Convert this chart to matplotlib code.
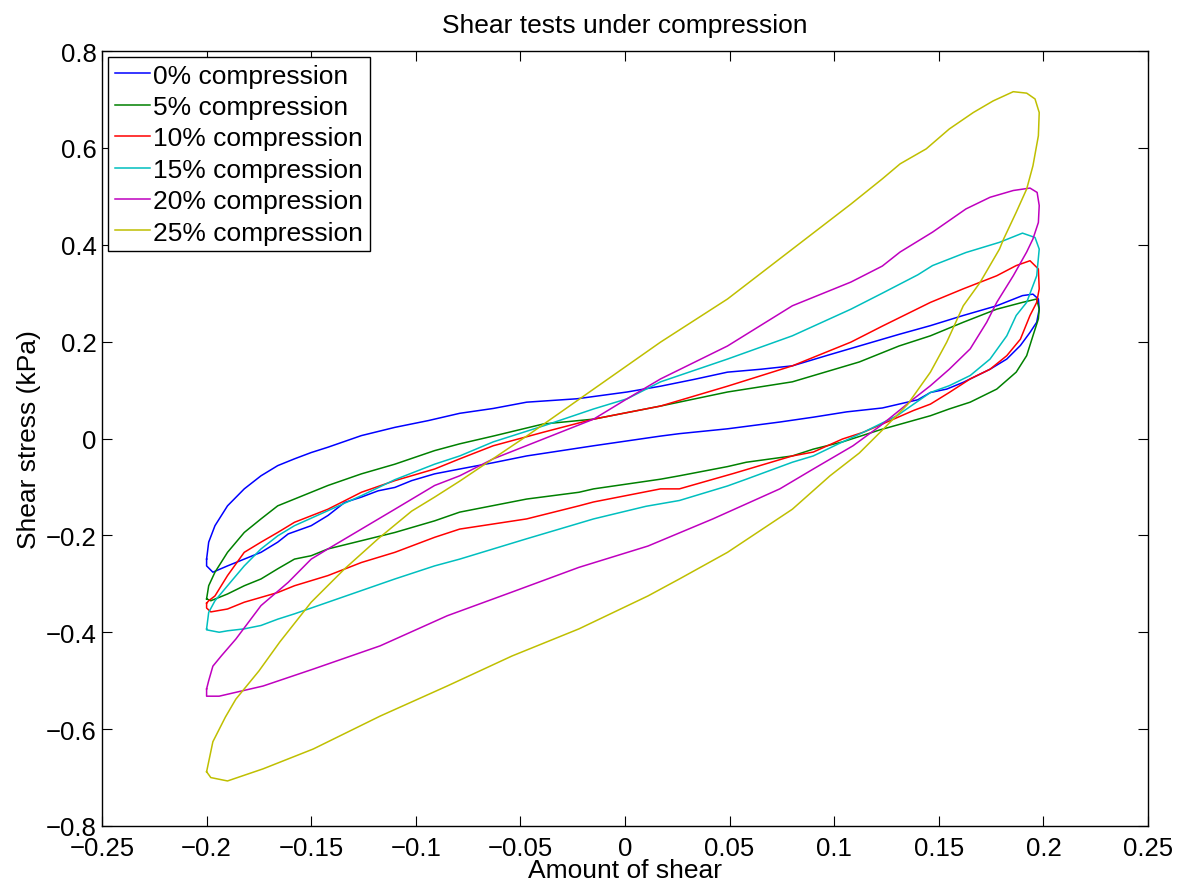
import matplotlib
matplotlib.use("Agg")
import matplotlib.pyplot as plt
from matplotlib.ticker import FuncFormatter

plt.rcParams['font.family'] = ['Liberation Sans', 'DejaVu Sans']

# hysteresis loops, each traced as one closed path:
# upper branch left -> right, turn at +0.2, lower branch right -> left
x_c0 = [-0.200, -0.199, -0.196, -0.190, -0.182, -0.174, -0.166, -0.158, -0.150, -0.142,
        -0.126, -0.110, -0.094, -0.079, -0.063, -0.047, -0.023, 0.001, 0.017, 0.033,
        0.049, 0.065, 0.080, 0.097, 0.112, 0.131, 0.146, 0.1617, 0.1777, 0.190,
        0.195, 0.1976, 0.198, 0.1968, 0.1936, 0.189, 0.1825, 0.1745, 0.1617, 0.1538,
        0.146, 0.140, 0.123, 0.106, 0.090, 0.074, 0.049, 0.026, 0.017, -0.015,
        -0.047, -0.063, -0.079, -0.091, -0.102, -0.110, -0.118, -0.126, -0.134, -0.142,
        -0.150, -0.161, -0.166, -0.174, -0.182, -0.190, -0.197, -0.200, -0.200]
y_c0 = [-0.249, -0.214, -0.180, -0.139, -0.104, -0.077, -0.056, -0.042, -0.029, -0.018,
        0.006, 0.023, 0.037, 0.052, 0.062, 0.075, 0.082, 0.096, 0.108, 0.122,
        0.137, 0.143, 0.150, 0.172, 0.191, 0.215, 0.233, 0.254, 0.274, 0.295,
        0.298, 0.288, 0.267, 0.240, 0.219, 0.192, 0.164, 0.143, 0.116, 0.102,
        0.095, 0.080, 0.063, 0.055, 0.044, 0.034, 0.020, 0.010, 0.005, -0.015,
        -0.036, -0.050, -0.063, -0.073, -0.087, -0.101, -0.108, -0.121, -0.132, -0.159,
        -0.180, -0.197, -0.214, -0.235, -0.249, -0.263, -0.276, -0.263, -0.249]

x_c5 = [-0.200, -0.199, -0.196, -0.190, -0.182, -0.174, -0.166, -0.158, -0.142, -0.126,
        -0.110, -0.091, -0.079, -0.063, -0.039, -0.015, 0.017, 0.049, 0.080, 0.112,
        0.131, 0.146, 0.1617, 0.1777, 0.190, 0.1968, 0.198, 0.1976, 0.195, 0.192,
        0.187, 0.1777, 0.165, 0.155, 0.146, 0.122, 0.104, 0.090, 0.080, 0.058,
        0.049, 0.026, 0.017, -0.015, -0.022, -0.047, -0.079, -0.091, -0.110, -0.126,
        -0.142, -0.150, -0.158, -0.166, -0.174, -0.182, -0.190, -0.198, -0.200]
y_c5 = [-0.331, -0.304, -0.276, -0.235, -0.194, -0.166, -0.139, -0.125, -0.097, -0.073,
        -0.053, -0.025, -0.011, 0.005, 0.030, 0.040, 0.067, 0.096, 0.117, 0.158,
        0.191, 0.212, 0.240, 0.267, 0.281, 0.288, 0.267, 0.247, 0.212, 0.171,
        0.137, 0.102, 0.075, 0.061, 0.047, 0.018, -0.007, -0.022, -0.036, -0.049,
        -0.058, -0.077, -0.084, -0.104, -0.111, -0.125, -0.152, -0.170, -0.194, -0.211,
        -0.228, -0.242, -0.249, -0.269, -0.290, -0.304, -0.321, -0.335, -0.331]

x_c10 = [-0.200, -0.199, -0.196, -0.190, -0.182, -0.174, -0.166, -0.158, -0.142, -0.126,
         -0.110, -0.091, -0.079, -0.063, -0.039, -0.015, 0.017, 0.049, 0.080, 0.108,
         0.123, 0.146, 0.1617, 0.1777, 0.187, 0.1936, 0.1976, 0.198, 0.1968, 0.1936,
         0.189, 0.1825, 0.1745, 0.165, 0.155, 0.146, 0.138, 0.114, 0.104, 0.090,
         0.080, 0.052, 0.026, 0.017, -0.015, -0.022, -0.047, -0.079, -0.091, -0.110,
         -0.126, -0.142, -0.158, -0.166, -0.174, -0.182, -0.190, -0.198, -0.200, -0.200]
y_c10 = [-0.340, -0.335, -0.325, -0.283, -0.235, -0.214, -0.194, -0.173, -0.146, -0.111,
         -0.087, -0.063, -0.042, -0.015, 0.013, 0.040, 0.067, 0.108, 0.150, 0.199,
         0.232, 0.281, 0.309, 0.336, 0.357, 0.367, 0.350, 0.309, 0.281, 0.254,
         0.205, 0.171, 0.143, 0.123, 0.095, 0.071, 0.058, 0.013, -0.001, -0.028,
         -0.036, -0.072, -0.104, -0.104, -0.131, -0.139, -0.166, -0.187, -0.204, -0.235,
         -0.256, -0.283, -0.304, -0.318, -0.328, -0.338, -0.352, -0.358, -0.350, -0.340]

x_c15 = [-0.200, -0.199, -0.196, -0.190, -0.182, -0.174, -0.166, -0.158, -0.142, -0.126,
         -0.110, -0.091, -0.079, -0.063, -0.039, -0.015, 0.001, 0.017, 0.049, 0.080,
         0.108, 0.123, 0.140, 0.147, 0.163, 0.179, 0.190, 0.196, 0.198, 0.1968,
         0.192, 0.187, 0.1825, 0.1745, 0.165, 0.155, 0.146, 0.130, 0.114, 0.104,
         0.090, 0.080, 0.058, 0.049, 0.026, 0.010, -0.015, -0.022, -0.047, -0.079,
         -0.091, -0.110, -0.126, -0.142, -0.158, -0.166, -0.174, -0.182, -0.190, -0.194,
         -0.200, -0.200]
y_c15 = [-0.393, -0.359, -0.335, -0.304, -0.263, -0.228, -0.201, -0.180, -0.149, -0.118,
         -0.085, -0.053, -0.036, -0.007, 0.026, 0.061, 0.082, 0.117, 0.164, 0.212,
         0.267, 0.300, 0.338, 0.357, 0.384, 0.405, 0.424, 0.415, 0.391, 0.336,
         0.281, 0.254, 0.212, 0.164, 0.130, 0.109, 0.095, 0.047, 0.013, -0.007,
         -0.036, -0.049, -0.084, -0.098, -0.128, -0.140, -0.166, -0.175, -0.207, -0.249,
         -0.263, -0.290, -0.314, -0.338, -0.362, -0.373, -0.386, -0.393, -0.397, -0.400,
         -0.395, -0.393]

x_c20 = [-0.200, -0.199, -0.197, -0.193, -0.186, -0.174, -0.161, -0.150, -0.142, -0.126,
         -0.110, -0.091, -0.079, -0.063, -0.039, -0.015, 0.001, 0.017, 0.049, 0.080,
         0.108, 0.123, 0.1315, 0.147, 0.163, 0.1745, 0.1856, 0.1936, 0.197, 0.198,
         0.1976, 0.195, 0.192, 0.1856, 0.1777, 0.1729, 0.165, 0.155, 0.146, 0.138,
         0.122, 0.109, 0.090, 0.074, 0.042, 0.011, -0.022, -0.054, -0.085, -0.117,
         -0.149, -0.173, -0.194, -0.200, -0.200]
y_c20 = [-0.517, -0.500, -0.470, -0.449, -0.414, -0.345, -0.297, -0.249, -0.228, -0.187,
         -0.146, -0.097, -0.077, -0.042, -0.001, 0.040, 0.082, 0.123, 0.191, 0.274,
         0.323, 0.356, 0.385, 0.426, 0.474, 0.498, 0.512, 0.517, 0.508, 0.481,
         0.446, 0.412, 0.385, 0.336, 0.281, 0.240, 0.185, 0.143, 0.109, 0.082,
         0.026, -0.015, -0.063, -0.104, -0.166, -0.222, -0.266, -0.317, -0.366, -0.428,
         -0.476, -0.511, -0.532, -0.532, -0.517]

x_c25 = [-0.200, -0.197, -0.191, -0.186, -0.175, -0.165, -0.150, -0.134, -0.118, -0.102,
         -0.091, -0.079, -0.069, -0.047, -0.015, 0.017, 0.049, 0.080, 0.108, 0.123,
         0.1315, 0.144, 0.155, 0.1665, 0.176, 0.1856, 0.192, 0.196, 0.198, 0.1976,
         0.195, 0.192, 0.187, 0.181, 0.179, 0.1697, 0.1617, 0.1538, 0.146, 0.135,
         0.122, 0.112, 0.098, 0.080, 0.049, 0.026, 0.011, -0.022, -0.054, -0.085,
         -0.117, -0.149, -0.173, -0.190, -0.198, -0.200]
y_c25 = [-0.688, -0.626, -0.575, -0.538, -0.480, -0.420, -0.338, -0.269, -0.207, -0.150,
         -0.121, -0.088, -0.059, 0.005, 0.102, 0.199, 0.288, 0.391, 0.484, 0.536,
         0.567, 0.598, 0.639, 0.673, 0.697, 0.716, 0.713, 0.701, 0.673, 0.625,
         0.563, 0.515, 0.467, 0.412, 0.391, 0.322, 0.274, 0.199, 0.137, 0.070,
         0.013, -0.030, -0.077, -0.146, -0.235, -0.290, -0.325, -0.393, -0.449, -0.511,
         -0.573, -0.641, -0.682, -0.707, -0.700, -0.688]

series = [
    ('0% compression', x_c0, y_c0, (0, 0, 1)),
    ('5% compression', x_c5, y_c5, (0, 0.5, 0)),
    ('10% compression', x_c10, y_c10, (1, 0, 0)),
    ('15% compression', x_c15, y_c15, (0, 0.75, 0.75)),
    ('20% compression', x_c20, y_c20, (0.75, 0, 0.75)),
    ('25% compression', x_c25, y_c25, (0.75, 0.75, 0)),
]

x_ticks = [-0.25, -0.2, -0.15, -0.1, -0.05, 0, 0.05, 0.1, 0.15, 0.2, 0.25]
y_ticks = [-0.8, -0.6, -0.4, -0.2, 0, 0.2, 0.4, 0.6, 0.8]

fig = plt.figure(figsize=(11.81, 8.87), dpi=100)
ax = fig.add_axes([102 / 1181, 1 - 827 / 887, 1046 / 1181, 775 / 887])

for label, xs, ys, col in series:
    ax.plot(xs, ys, color=col, lw=1.1, label=label)

ax.set_xlim(-0.25, 0.25)
ax.set_ylim(-0.8, 0.8)
ax.set_xticks(x_ticks)
ax.set_yticks(y_ticks)
fmt = FuncFormatter(lambda v, p: ('%g' % v).replace('-', '\u2212'))
ax.xaxis.set_major_formatter(fmt)
ax.yaxis.set_major_formatter(fmt)
ax.tick_params(direction='in', top=True, right=True, length=7, width=0.8,
               labelsize=18.5)
ax.tick_params(axis='x', pad=7)
ax.tick_params(axis='y', pad=4)
for s in ax.spines.values():
    s.set_linewidth(1.0)

ax.set_xlabel('Amount of shear', fontsize=19, labelpad=-1)
ax.set_ylabel('Shear stress (kPa)', fontsize=19, labelpad=3)
ax.set_title('Shear tests under compression', fontsize=19, pad=14)

leg = ax.legend(loc='upper left', fontsize=19, fancybox=False, framealpha=1,
                edgecolor='black', borderaxespad=0.23, borderpad=0.25,
                handlelength=1.35, handletextpad=0.12, labelspacing=0.28)
leg.get_frame().set_linewidth(1.0)

fig.savefig('out.png', dpi=100)
